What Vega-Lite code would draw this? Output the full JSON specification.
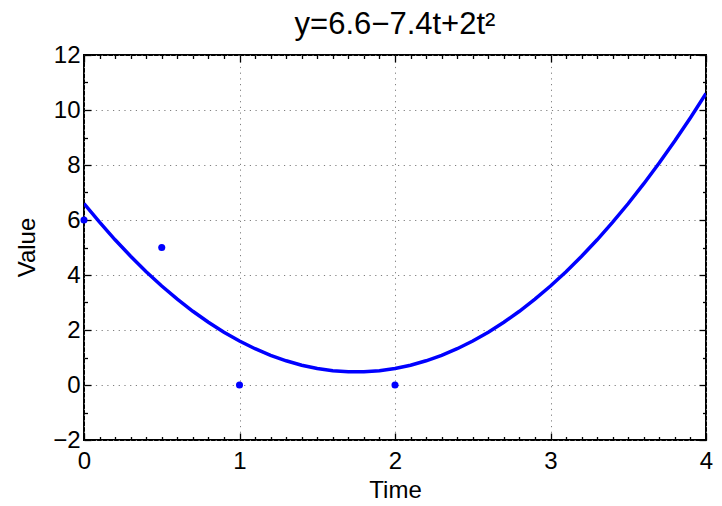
{
  "$schema": "https://vega.github.io/schema/vega-lite/v6.json",
  "width": 622,
  "height": 385,
  "autosize": {"type": "none"},
  "padding": {"left": 84, "top": 55, "right": 16, "bottom": 66},
  "background": "white",
  "config": {
    "view": {"stroke": "black", "strokeWidth": 2},
    "font": "Liberation Sans",
    "axis": {
      "labelFont": "Liberation Sans",
      "titleFont": "Liberation Sans",
      "labelColor": "black",
      "titleColor": "black",
      "tickColor": "black",
      "tickWidth": 1.3,
      "gridColor": "#7f7f7f",
      "gridDash": [1.2, 4.5],
      "gridWidth": 1,
      "gridOpacity": 1
    }
  },
  "title": {
    "text": "y=6.6−7.4t+2t²",
    "font": "Liberation Sans",
    "fontSize": 31,
    "fontWeight": "normal",
    "color": "black",
    "anchor": "middle",
    "baseline": "alphabetic",
    "offset": -22
  },
  "datasets": {
    "curve": [
      {"t": 0.0, "y": 6.6}, {"t": 0.1, "y": 5.92}, {"t": 0.2, "y": 5.28}, {"t": 0.3, "y": 4.68},
      {"t": 0.4, "y": 4.12}, {"t": 0.5, "y": 3.6}, {"t": 0.6, "y": 3.12}, {"t": 0.7, "y": 2.68},
      {"t": 0.8, "y": 2.28}, {"t": 0.9, "y": 1.92}, {"t": 1.0, "y": 1.6}, {"t": 1.1, "y": 1.32},
      {"t": 1.2, "y": 1.08}, {"t": 1.3, "y": 0.88}, {"t": 1.4, "y": 0.72}, {"t": 1.5, "y": 0.6},
      {"t": 1.6, "y": 0.52}, {"t": 1.7, "y": 0.48}, {"t": 1.8, "y": 0.48}, {"t": 1.9, "y": 0.52},
      {"t": 2.0, "y": 0.6}, {"t": 2.1, "y": 0.72}, {"t": 2.2, "y": 0.88}, {"t": 2.3, "y": 1.08},
      {"t": 2.4, "y": 1.32}, {"t": 2.5, "y": 1.6}, {"t": 2.6, "y": 1.92}, {"t": 2.7, "y": 2.28},
      {"t": 2.8, "y": 2.68}, {"t": 2.9, "y": 3.12}, {"t": 3.0, "y": 3.6}, {"t": 3.1, "y": 4.12},
      {"t": 3.2, "y": 4.68}, {"t": 3.3, "y": 5.28}, {"t": 3.4, "y": 5.92}, {"t": 3.5, "y": 6.6},
      {"t": 3.6, "y": 7.32}, {"t": 3.7, "y": 8.08}, {"t": 3.8, "y": 8.88}, {"t": 3.9, "y": 9.72},
      {"t": 4.0, "y": 10.6}
    ],
    "points": [
      {"t": 0, "y": 6}, {"t": 0.5, "y": 5}, {"t": 1, "y": 0}, {"t": 2, "y": 0}
    ]
  },
  "resolve": {"axis": {"x": "independent", "y": "independent"}},
  "layer": [
    {
      "data": {"name": "curve"},
      "mark": {"type": "line", "color": "#0000ff", "strokeWidth": 3.5, "clip": true},
      "encoding": {
        "x": {"field": "t", "type": "quantitative",
          "scale": {"domain": [0, 4], "nice": false, "zero": false},
          "axis": {"orient": "bottom", "values": [0, 1, 2, 3, 4], "ticks": false, "domain": false, "grid": true,
            "labelFontSize": 24, "labelBaseline": "alphabetic", "labelPadding": 28, "labelFlush": false,
            "title": "Time", "titleFontSize": 24, "titleFontWeight": "normal", "titleX": 311, "titleY": 57, "titleBaseline": "alphabetic", "titleAnchor": "middle"}},
        "y": {"field": "y", "type": "quantitative",
          "scale": {"domain": [-2, 12], "nice": false, "zero": false},
          "axis": {"orient": "left", "values": [-2, 0, 2, 4, 6, 8, 10, 12], "ticks": false, "domain": false, "grid": true,
            "labelFontSize": 24, "labelPadding": 4, "labelBaseline": "middle", "labelFlush": false, "labelExpr": "replace(datum.label, '-', '−')",
            "title": "Value", "titleFontSize": 24, "titleFontWeight": "normal", "titleX": -57, "titleY": 192, "titleBaseline": "middle", "titleAngle": 270, "titleAnchor": "middle"}}
      }
    },
    {
      "data": {"name": "points"},
      "mark": {"type": "circle", "color": "#0000ff", "opacity": 1, "size": 50, "clip": false},
      "encoding": {
        "x": {"field": "t", "type": "quantitative",
          "scale": {"domain": [0, 4], "nice": false, "zero": false},
          "axis": {"orient": "bottom", "values": [0, 1, 2, 3, 4], "labels": false, "domain": false, "grid": false, "ticks": true, "tickSize": -7, "title": null}},
        "y": {"field": "y", "type": "quantitative",
          "scale": {"domain": [-2, 12], "nice": false, "zero": false},
          "axis": {"orient": "left", "values": [-2, 0, 2, 4, 6, 8, 10, 12], "labels": false, "domain": false, "grid": false, "ticks": true, "tickSize": -7, "title": null}}
      }
    },
    {
      "data": {"name": "points"},
      "mark": {"type": "circle", "opacity": 0},
      "encoding": {
        "x": {"field": "t", "type": "quantitative",
          "scale": {"domain": [0, 4], "nice": false, "zero": false},
          "axis": {"orient": "bottom", "values": [0.1,0.2,0.3,0.4,0.5,0.6,0.7,0.8,0.9,1.1,1.2,1.3,1.4,1.5,1.6,1.7,1.8,1.9,2.1,2.2,2.3,2.4,2.5,2.6,2.7,2.8,2.9,3.1,3.2,3.3,3.4,3.5,3.6,3.7,3.8,3.9], "labels": false, "domain": false, "grid": false, "ticks": true, "tickSize": -3.5, "title": null}},
        "y": {"field": "y", "type": "quantitative",
          "scale": {"domain": [-2, 12], "nice": false, "zero": false},
          "axis": {"orient": "left", "values": [-1, 1, 3, 5, 7, 9, 11], "labels": false, "domain": false, "grid": false, "ticks": true, "tickSize": -3.5, "title": null}}
      }
    },
    {
      "data": {"name": "points"},
      "mark": {"type": "circle", "opacity": 0},
      "encoding": {
        "x": {"field": "t", "type": "quantitative",
          "scale": {"domain": [0, 4], "nice": false, "zero": false},
          "axis": {"orient": "top", "values": [0, 1, 2, 3, 4], "labels": false, "domain": false, "grid": false, "ticks": true, "tickSize": -7, "title": null}},
        "y": {"field": "y", "type": "quantitative",
          "scale": {"domain": [-2, 12], "nice": false, "zero": false},
          "axis": {"orient": "right", "values": [-2, 0, 2, 4, 6, 8, 10, 12], "labels": false, "domain": false, "grid": false, "ticks": true, "tickSize": -7, "title": null}}
      }
    },
    {
      "data": {"name": "points"},
      "mark": {"type": "circle", "opacity": 0},
      "encoding": {
        "x": {"field": "t", "type": "quantitative",
          "scale": {"domain": [0, 4], "nice": false, "zero": false},
          "axis": {"orient": "top", "values": [0.1,0.2,0.3,0.4,0.5,0.6,0.7,0.8,0.9,1.1,1.2,1.3,1.4,1.5,1.6,1.7,1.8,1.9,2.1,2.2,2.3,2.4,2.5,2.6,2.7,2.8,2.9,3.1,3.2,3.3,3.4,3.5,3.6,3.7,3.8,3.9], "labels": false, "domain": false, "grid": false, "ticks": true, "tickSize": -3.5, "title": null}},
        "y": {"field": "y", "type": "quantitative",
          "scale": {"domain": [-2, 12], "nice": false, "zero": false},
          "axis": {"orient": "right", "values": [-1, 1, 3, 5, 7, 9, 11], "labels": false, "domain": false, "grid": false, "ticks": true, "tickSize": -3.5, "title": null}}
      }
    }
  ]
}
